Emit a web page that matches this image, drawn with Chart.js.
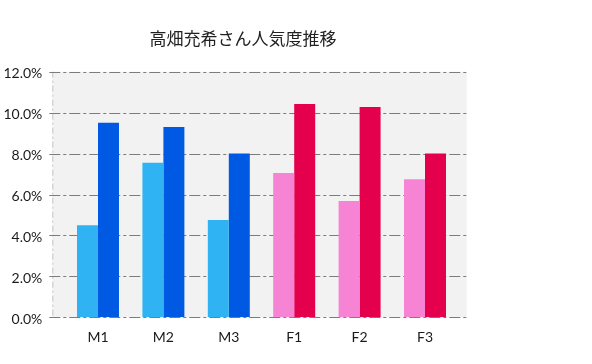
<!DOCTYPE html>
<html>
<head>
<meta charset="utf-8">
<script src="https://cdn.jsdelivr.net/npm/chart.js@4.4.0/dist/chart.umd.min.js"></script>
<style>
  html, body { margin: 0; padding: 0; background: #fff; }
  #wrap { width: 592px; height: 364px; position: relative; }
</style>
</head>
<body>
<div id="wrap"><canvas id="popChart" width="592" height="364"></canvas></div>
<script>
// chart data
const titleText = "高畑充希さん人気度推移";
const categories = ["M1", "M2", "M3", "F1", "F2", "F3"];
const seriesBefore = [4.5, 7.55, 4.75, 7.05, 5.68, 6.75];
const seriesAfter = [9.5, 9.3, 8.0, 10.42, 10.27, 8.0];
const lightColors = ["#2fb3f2", "#2fb3f2", "#2fb3f2", "#f783d5", "#f783d5", "#f783d5"];
const darkColors = ["#0059e3", "#0059e3", "#0059e3", "#e5004d", "#e5004d", "#e5004d"];
const yTickMin = 0;
const yTickMax = 12;
const yTickStep = 2;

// gray panel + dash-dot grid, a bit wider than the category band
const panelPlugin = {
  id: "panel",
  beforeDatasetsDraw(chart) {
    const ctx = chart.ctx;
    const area = chart.chartArea;
    const yScale = chart.scales.y;
    const left = area.left - 13;
    const right = area.right + 9;
    ctx.save();
    ctx.fillStyle = "#f2f2f2";
    ctx.fillRect(left, area.top, right - left, area.bottom - area.top);

    ctx.strokeStyle = "rgba(128,128,128,0.4)";
    ctx.lineWidth = 1;
    ctx.setLineDash([6, 3, 2, 3]);
    ctx.beginPath();
    ctx.moveTo(left + 0.5, area.top);
    ctx.lineTo(left + 0.5, area.bottom);
    ctx.stroke();

    ctx.strokeStyle = "#7c7c7c";
    ctx.lineWidth = 1.1;
    ctx.setLineDash([11, 3, 3, 3]);
    yScale.ticks.forEach((t) => {
      const y = Math.round(yScale.getPixelForValue(t.value)) + 0.5;
      ctx.beginPath();
      ctx.moveTo(left - 3, y);
      ctx.lineTo(right, y);
      ctx.stroke();
    });
    ctx.restore();
  },
  afterDraw(chart) {
    const ctx = chart.ctx;
    ctx.save();
    ctx.fillStyle = "#222";
    ctx.font = '17px "Noto Sans CJK JP"';
    ctx.textAlign = "center";
    ctx.textBaseline = "middle";
    ctx.fillText(titleText, 243, 38.5);
    ctx.restore();
  },
};

const ctx = document.getElementById("popChart").getContext("2d");
const popChart = new Chart(ctx, {
  type: "bar",
  data: {
    labels: categories,
    datasets: [
      {
        data: seriesBefore,
        backgroundColor: lightColors,
        borderWidth: 0,
      },
      {
        data: seriesAfter,
        backgroundColor: darkColors,
        borderWidth: 0,
      },
    ],
  },
  options: {
    responsive: false,
    animation: false,
    layout: {
      padding: { top: 71.7, right: 134.3, left: 0, bottom: 0 },
    },
    categoryPercentage: 0.642,
    barPercentage: 1,
    plugins: {
      legend: { display: false },
      title: { display: false },
      tooltip: { enabled: false },
    },
    scales: {
      x: {
        grid: { display: false },
        border: { display: false },
        ticks: {
          padding: 4,
          color: "#1a1a1a",
          font: { family: "Lato", size: 14 },
        },
        afterFit(scale) {
          scale.height = 46.7;
        },
      },
      y: {
        min: yTickMin,
        max: yTickMax,
        grid: { display: false },
        border: { display: false },
        ticks: {
          stepSize: yTickStep,
          padding: 15,
          labelOffset: 2,
          color: "#1a1a1a",
          font: { family: "Lato", size: 14 },
          callback: (v) => v.toFixed(1) + "%",
        },
        afterFit(scale) {
          scale.width = 65.3;
        },
      },
    },
  },
  plugins: [panelPlugin],
});
</script>
</body>
</html>
